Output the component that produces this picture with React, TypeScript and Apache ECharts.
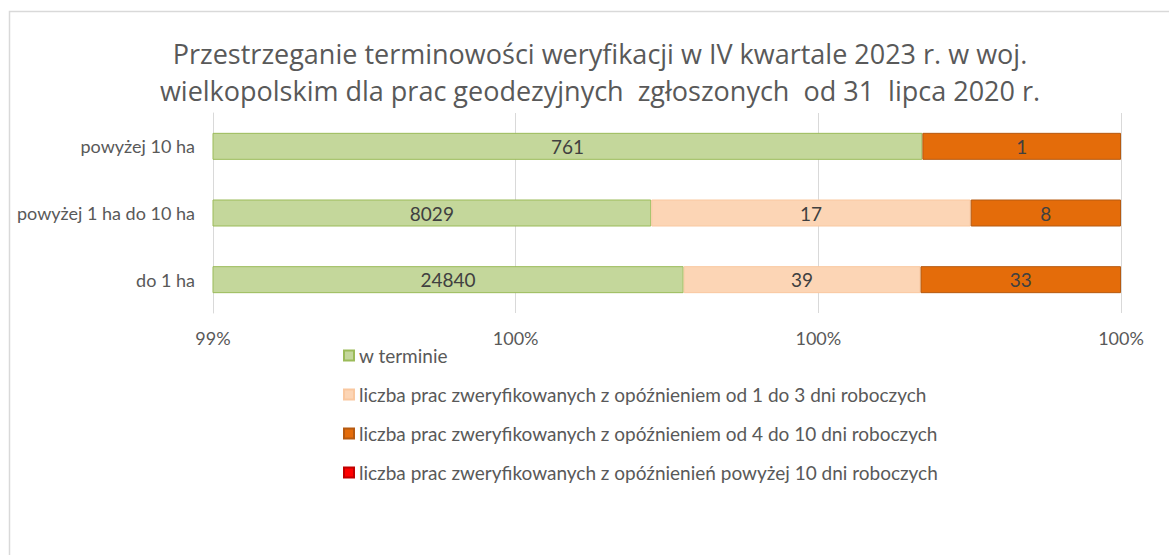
import React, { useEffect, useRef } from "react";
import * as echarts from "echarts";

const titleLines = [
  "Przestrzeganie terminowości weryfikacji w IV kwartale 2023 r. w woj.",
  "wielkopolskim dla prac geodezyjnych  zgłoszonych  od 31  lipca 2020 r.",
];
const categories = ["do 1 ha", "powyżej 1 ha do 10 ha", "powyżej 10 ha"];
const seriesNames = [
  "w terminie",
  "liczba prac zweryfikowanych z opóźnieniem od 1 do 3 dni roboczych",
  "liczba prac zweryfikowanych z opóźnieniem od 4 do 10 dni roboczych",
  "liczba prac zweryfikowanych z opóźnienień powyżej 10 dni roboczych",
];
const onTime = [24840, 8029, 761];
const delay1to3 = [39, 17, 0];
const delay4to10 = [33, 8, 1];
const delayOver10 = [0, 0, 0];
const seriesColors = ["#C4D79B", "#FCD5B5", "#E46C0A", "#FF0000"];
const seriesBorders = ["#9BBB59", "#F9C8A0", "#B65A10", "#C00000"];
const axisMin = 0.994;
const axisMax = 1;
const axisInterval = 0.002;

export default function App() {
  const ref = useRef<HTMLDivElement>(null);
  useEffect(() => {
    if (!ref.current) return;
    const chart = echarts.init(ref.current, null, { renderer: "svg" });
    const counts = [onTime, delay1to3, delay4to10, delayOver10];
    const totals = categories.map((_, i) => counts.reduce((s, arr) => s + arr[i], 0));
    const font = "Lato";
    const series = counts.map((arr, si) => ({
      name: seriesNames[si],
      type: "bar",
      stack: "total",
      barWidth: 27,
      itemStyle: {
        color: seriesColors[si],
        borderColor: seriesBorders[si],
        borderWidth: 1,
      },
      label: {
        show: si < 3,
        position: "inside",
        color: "#404040",
        fontSize: 19,
        fontFamily: font,
        formatter: (p: any) => (arr[p.dataIndex] ? String(arr[p.dataIndex]) : ""),
      },
      data: arr.map((v, i) => (v ? v / totals[i] : null)),
    }));
    chart.setOption({
      animation: false,
      backgroundColor: "#ffffff",
      graphic: [
        {
          type: "rect",
          shape: { x: 9.5, y: 11.5, width: 1300, height: 700 },
          style: { fill: "none", stroke: "#D9D9D9", lineWidth: 1.5 },
          silent: true,
          z: -10,
        },
      ],
      title: {
        text: titleLines.join("\n"),
        left: 595,
        top: 30,
        textAlign: "center",
        textStyle: {
          color: "#595959",
          fontFamily: "Open Sans",
          fontSize: 27,
          fontWeight: "normal",
          lineHeight: 37,
        },
      },
      legend: {
        orient: "vertical",
        left: 338,
        top: 341,
        itemWidth: 10,
        itemHeight: 10,
        itemGap: 20,
        icon: "rect",
        textStyle: { color: "#595959", fontSize: 19, fontFamily: font, lineHeight: 19 },
        data: seriesNames,
      },
      grid: { left: 213, right: 48, top: 113, bottom: 242, containLabel: false },
      xAxis: {
        type: "value",
        min: axisMin,
        max: axisMax,
        interval: axisInterval,
        axisLine: { show: false },
        axisTick: { show: false },
        splitLine: { show: true, lineStyle: { color: "#D9D9D9", width: 1 } },
        axisLabel: {
          color: "#595959",
          fontSize: 18,
          fontFamily: font,
          margin: 16,
          formatter: (v: number) => Math.round(v * 100) + "%",
        },
      },
      yAxis: {
        type: "category",
        data: categories,
        axisLine: { show: true, lineStyle: { color: "#D9D9D9", width: 1 } },
        axisTick: { show: false },
        axisLabel: { color: "#595959", fontSize: 18, fontFamily: font, margin: 18 },
      },
      series,
    });
    return () => chart.dispose();
  }, []);
  return (
    <div
      ref={ref}
      style={{ position: "fixed", left: 0, top: 0, width: 1169, height: 555 }}
    />
  );
}
